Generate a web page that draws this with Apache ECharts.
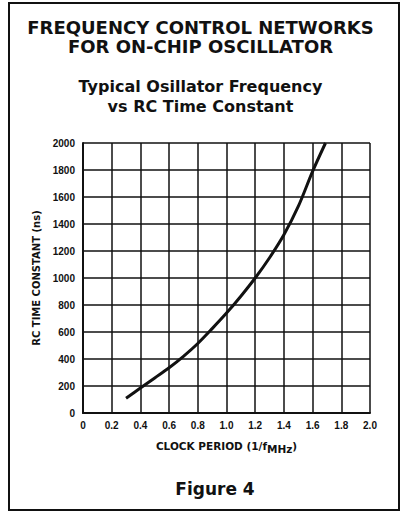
<!DOCTYPE html>
<html>
<head>
<meta charset="utf-8">
<script src="https://cdn.jsdelivr.net/npm/echarts@6/dist/echarts.min.js"></script>
<style>
  html, body { margin: 0; padding: 0; background: #fff; }
  #main { width: 401px; height: 517px; }
</style>
</head>
<body>
<div id="main"></div>
<script>
// 时钟周期 (1/f MHz)
var clockPeriod = [0.3, 0.4, 0.5, 0.6, 0.7, 0.8, 0.9, 1.0, 1.1, 1.2, 1.3, 1.4, 1.5, 1.6, 1.69];
// RC 时间常数 (ns)
var rcTime = [110, 185, 260, 335, 420, 515, 625, 740, 865, 1000, 1150, 1320, 1530, 1790, 2000];

var titleLines = ['FREQUENCY CONTROL NETWORKS', 'FOR ON-CHIP OSCILLATOR'];
var subTitleLines = ['Typical Osillator Frequency', 'vs RC Time Constant'];
var figureLabel = 'Figure 4';

var FONT = '"Liberation Sans", Arial, sans-serif';
var WIDE = '"DejaVu Sans", sans-serif';

var curve = clockPeriod.map(function (x, i) {
  return [x, rcTime[i]];
});

var myChart = echarts.init(document.getElementById('main'), null, {renderer: 'svg'});

var option = {
  backgroundColor: '#fff',
  animation: false,
  title: [
    {
      text: titleLines.join('\n'),
      left: 'center',
      top: 13,
      textStyle: {fontFamily: WIDE, fontSize: 18, fontWeight: 'bold', color: '#111', lineHeight: 19}
    },
    {
      text: subTitleLines.join('\n'),
      left: 'center',
      top: 71,
      textStyle: {fontFamily: WIDE, fontSize: 16, fontWeight: 'bold', color: '#111', lineHeight: 20}
    },
    {
      text: figureLabel,
      left: 210,
      textAlign: 'center',
      top: 475,
      textStyle: {fontFamily: WIDE, fontSize: 17, fontWeight: 'bold', color: '#111'}
    }
  ],
  graphic: [
    {
      type: 'rect',
      shape: {x: 9, y: 3, width: 390, height: 507},
      style: {fill: 'none', stroke: '#111', lineWidth: 2},
      silent: true
    }
  ],
  grid: {left: 83, top: 143, right: 31, bottom: 104, containLabel: false},
  xAxis: {
    type: 'value',
    min: 0,
    max: 2,
    interval: 0.2,
    name: '{a|CLOCK PERIOD (1/f}{b|MHz}{a|)}',
    nameLocation: 'middle',
    nameGap: 24,
    nameTextStyle: {
      rich: {
        a: {fontFamily: WIDE, fontSize: 10.5, fontWeight: 'bold', color: '#111'},
        b: {fontFamily: WIDE, fontSize: 10.5, fontWeight: 'bold', color: '#111', padding: [6, 0, 0, 0]}
      }
    },
    axisLine: {show: true, lineStyle: {color: '#111', width: 2}},
    axisTick: {show: false},
    axisLabel: {
      fontFamily: FONT, fontSize: 10, fontWeight: 'bold', color: '#111', margin: 7,
      formatter: function (v) { return v === 0 ? '0' : v.toFixed(1); }
    },
    splitLine: {show: true, lineStyle: {color: '#111', width: 1.5}}
  },
  yAxis: {
    type: 'value',
    min: 0,
    max: 2000,
    interval: 200,
    name: 'RC TIME CONSTANT (ns)',
    nameLocation: 'middle',
    nameGap: 38,
    nameTextStyle: {fontFamily: WIDE, fontSize: 10, fontWeight: 'bold', color: '#111'},
    axisLine: {show: true, lineStyle: {color: '#111', width: 2}},
    axisTick: {show: false},
    axisLabel: {
      fontFamily: FONT, fontSize: 10, fontWeight: 'bold', color: '#111', margin: 8,
      formatter: function (v) { return String(v); }
    },
    splitLine: {show: true, lineStyle: {color: '#111', width: 1.5}}
  },
  series: [
    {
      type: 'line',
      data: curve,
      smooth: 0.3,
      symbol: 'none',
      lineStyle: {color: '#111', width: 3}
    }
  ]
};

myChart.setOption(option);
</script>
</body>
</html>
